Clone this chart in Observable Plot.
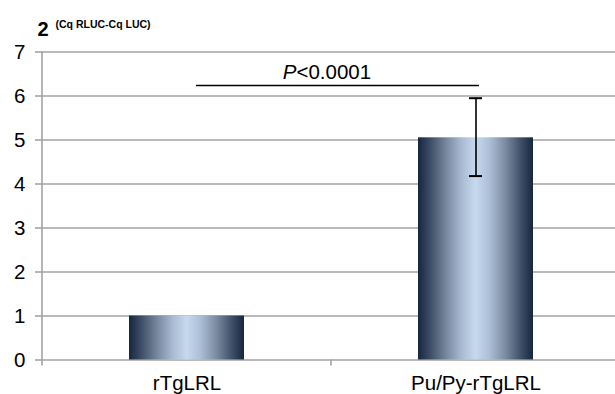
<!DOCTYPE html>
<html><head><meta charset="utf-8">
<script src="https://cdn.jsdelivr.net/npm/d3@7"></script>
<script src="https://cdn.jsdelivr.net/npm/@observablehq/plot@0.6"></script>
<style>
body{margin:0;background:#fff;font-family:"Liberation Sans",Arial,sans-serif}
#chart{width:615px;height:394px}
</style>
</head><body><div id="chart"></div>
<script>
// ---- data ----
const categories = ["rTgLRL", "Pu/Py-rTgLRL"];
const values = [1.0, 5.05];
const errLow = [null, 4.18];
const errHigh = [null, 5.95];
const yTicks = [0, 1, 2, 3, 4, 5, 6, 7];
const sigY = 6.24;
const sigLabel = ["P", "<0.0001"];
const yTitle = ["2", "(Cq RLUC-Cq LUC)"];

const data = categories.map((c, i) => ({cat: c, value: values[i], lo: errLow[i], hi: errHigh[i]}));
const errData = data.filter(d => d.lo != null);

const grid = "#a3a3a3";

const chart = Plot.plot({
  width: 615,
  height: 394,
  marginLeft: 41,
  marginRight: 0,
  marginTop: 51.5,
  marginBottom: 34.5,
  style: {fontFamily: '"Liberation Sans", Arial, sans-serif', fontSize: "20px", color: "black", background: "white"},
  x: {domain: categories, range: [41, 620.4], padding: 0, axis: null},
  y: {domain: [0, 7], axis: null},
  marks: [
    Plot.ruleY(yTicks, {stroke: grid, strokeWidth: 1.6}),
    Plot.axisY({ticks: yTicks, tickFormat: d3.format("d"), tickSize: 6, tickPadding: 10, stroke: grid, strokeWidth: 1.6, fill: "black", fontSize: 20.5, label: null}),
    Plot.axisX({tickSize: 0, tickPadding: 15, fill: "black", fontSize: 20.5, label: null}),
    Plot.barY(data, {x: "cat", y: "value", fill: "url(#barGrad)", insetLeft: 87, insetRight: 87}),
    Plot.ruleX(errData, {x: "cat", y1: "lo", y2: "hi", stroke: "black", strokeWidth: 1.6}),
    Plot.tickY(errData, {x: "cat", y: "lo", stroke: "black", strokeWidth: 2, insetLeft: 138, insetRight: 138}),
    Plot.tickY(errData, {x: "cat", y: "hi", stroke: "black", strokeWidth: 2, insetLeft: 138, insetRight: 138}),
    Plot.ruleY([sigY], {x1: () => categories[0], x2: () => categories[1], insetLeft: 154, insetRight: 141, stroke: "black", strokeWidth: 1.6}),
    Plot.text([sigY], {y: d => d, text: () => sigLabel[0], frameAnchor: "middle", textAnchor: "end", lineAnchor: "bottom", dx: -32, dy: -6, fontSize: 20.5, fontStyle: "italic", fill: "black"}),
    Plot.text([sigY], {y: d => d, text: () => sigLabel[1], frameAnchor: "middle", textAnchor: "start", lineAnchor: "bottom", dx: -32, dy: -6, fontSize: 20.5, fill: "black"}),
    Plot.text([yTitle[0]], {text: d => d, frameAnchor: "top-left", textAnchor: "start", lineAnchor: "bottom", dx: -4, dy: -16.5, fontSize: 20, fontWeight: "bold", fill: "black"}),
    Plot.text([yTitle[1]], {text: d => d, frameAnchor: "top-left", textAnchor: "start", lineAnchor: "bottom", dx: 14, dy: -24.5, fontSize: 10.5, fontWeight: "bold", fill: "black"})
  ]
});

// gradient definition for the bars
const svg = d3.select(chart);
const defs = svg.insert("defs", ":first-child");
const g = defs.append("linearGradient").attr("id", "barGrad").attr("x1", "0").attr("x2", "1").attr("y1", "0").attr("y2", "0");
[[0, "#16263f"], [0.1, "#3b4b63"], [0.25, "#7889a0"], [0.38, "#a9bbd2"], [0.5, "#c7d9ef"], [0.62, "#adbfd6"], [0.76, "#7a8ba2"], [0.9, "#3d4d65"], [1, "#16263f"]]
  .forEach(([o, c]) => g.append("stop").attr("offset", o).attr("stop-color", c));

// vertical axis line and category boundary ticks, from Plot's scales
const xs = chart.scale("x"), ys = chart.scale("y");
const y0 = ys.apply(0), y7 = ys.apply(7);
const bounds = categories.map(c => xs.apply(c));
const extra = svg.append("g").attr("stroke", grid).attr("stroke-width", 1.6);
extra.append("line").attr("x1", bounds[0]).attr("x2", bounds[0]).attr("y1", y7).attr("y2", y0 + 6);
extra.append("line").attr("x1", bounds[1]).attr("x2", bounds[1]).attr("y1", y0).attr("y2", y0 + 6);

document.getElementById("chart").appendChild(chart);
</script>
</body></html>
